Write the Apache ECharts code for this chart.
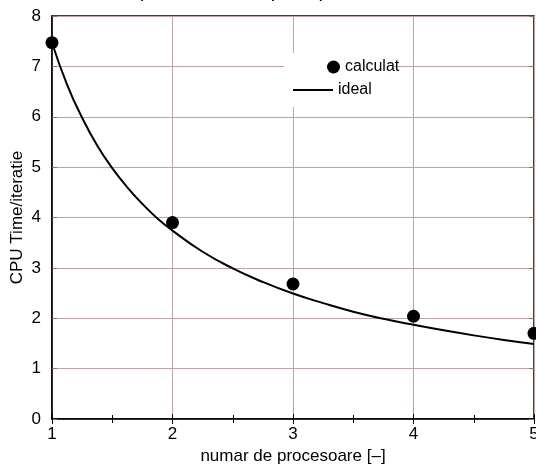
<!DOCTYPE html>
<html>
<head>
<meta charset="utf-8">
<script src="https://cdn.jsdelivr.net/npm/echarts@6/dist/echarts.min.js"></script>
<style>
  html, body { margin: 0; padding: 0; background: #fff; }
  #chart { width: 536px; height: 468px; }
</style>
</head>
<body>
<div id="chart"></div>
<script>
// puncte masurate
var procCalc = [1, 2, 3, 4, 5]
var timpCalc = [7.47, 3.9, 2.68, 2.04, 1.7]
// curba ideala
var procIdeal = [1, 1.125, 1.25, 1.375, 1.5, 1.625, 1.75, 1.875, 2, 2.25, 2.5, 2.75, 3, 3.25, 3.5, 3.75, 4, 4.25, 4.5, 4.75, 5]
var timpIdeal = [7.47, 6.64, 5.98, 5.43, 4.98, 4.60, 4.27, 3.98, 3.74, 3.32, 2.99, 2.72, 2.49, 2.30, 2.13, 1.99, 1.87, 1.76, 1.66, 1.57, 1.49]

var chart = echarts.init(document.getElementById('chart'))

var gridColor = '#cf9f9f'
var font = 'Liberation Sans, Arial, sans-serif'

var option = {
  animation: false,
  title: {
    text: 'a) Scaderea timpului pe iteratie',
    left: 'center',
    top: -24,
    textStyle: { fontFamily: font, fontSize: 20, fontWeight: 'normal', color: '#000' }
  },
  grid: {
    left: 52, right: 2, top: 16, bottom: 49,
    outerBoundsMode: 'none',
    containLabel: false,
    show: true, borderColor: '#000', borderWidth: 1.5
  },
  legend: [
    {
      data: [{ name: 'calculat', icon: 'circle' }],
      left: 327, top: 59,
      itemWidth: 13, itemHeight: 13,
      padding: 0,
      textStyle: { fontFamily: font, fontSize: 16, color: '#000' }
    },
    {
      data: [{ name: 'ideal', icon: 'path://M0,0 L40,0 L40,2 L0,2 Z' }],
      left: 293, top: 82,
      itemWidth: 40, itemHeight: 2,
      padding: 0,
      textStyle: { fontFamily: font, fontSize: 16, color: '#000' }
    }
  ],
  graphic: [{
    type: 'rect', left: 284, top: 53, z: 2,
    shape: { width: 110, height: 54 },
    style: { fill: '#fff' }
  }],
  xAxis: [{
    type: 'value', min: 1, max: 5, interval: 1,
    name: 'numar de procesoare [\u2013]',
    nameLocation: 'middle', nameGap: 29,
    nameTextStyle: { fontFamily: font, fontSize: 17, color: '#000' },
    axisLine: { lineStyle: { color: '#000', width: 1.5 } },
    axisTick: { inside: true, length: 5, lineStyle: { color: '#000' } },
    minorTick: { show: true, splitNumber: 2, length: 4, lineStyle: { color: '#000' } },
    axisLabel: { fontFamily: font, fontSize: 17, color: '#000', margin: 7 },
    splitLine: { show: true, lineStyle: { color: gridColor, width: 1 } }
  }, {
    type: 'value', min: 1, max: 5, interval: 1, position: 'top',
    axisLine: { show: false },
    axisTick: { inside: true, length: 5, lineStyle: { color: '#000' } },
    minorTick: { show: true, splitNumber: 2, length: 4, lineStyle: { color: '#000' } },
    axisLabel: { show: false },
    splitLine: { show: false }
  }],
  yAxis: [{
    type: 'value', min: 0, max: 8, interval: 1,
    name: 'CPU Time/iteratie',
    nameLocation: 'middle', nameGap: 26,
    nameMoveOverlap: false,
    nameTextStyle: { fontFamily: font, fontSize: 17, color: '#000' },
    axisLine: { show: true, lineStyle: { color: '#000', width: 1.5 } },
    axisTick: { show: true, inside: true, length: 5, lineStyle: { color: '#a06868' } },
    axisLabel: { fontFamily: font, fontSize: 17, color: '#000', margin: 11 },
    splitLine: { show: true, lineStyle: { color: gridColor, width: 1 } }
  }, {
    type: 'value', min: 0, max: 8, interval: 1, position: 'right',
    axisLine: { show: false },
    axisTick: { show: true, inside: true, length: 5, lineStyle: { color: '#a06868' } },
    axisLabel: { show: false },
    splitLine: { show: false }
  }],
  series: [
    {
      name: 'calculat',
      type: 'scatter',
      data: procCalc.map(function (p, i) { return [p, timpCalc[i]] }),
      symbol: 'circle', symbolSize: 13,
      itemStyle: { color: '#000', opacity: 1 },
      clip: false,
      z: 5
    },
    {
      name: 'ideal',
      type: 'line',
      data: procIdeal.map(function (p, i) { return [p, timpIdeal[i]] }),
      smooth: true,
      showSymbol: false,
      lineStyle: { color: '#000', width: 2 },
      itemStyle: { color: '#000' },
      z: 4
    }
  ]
}

chart.setOption(option)
</script>
</body>
</html>
